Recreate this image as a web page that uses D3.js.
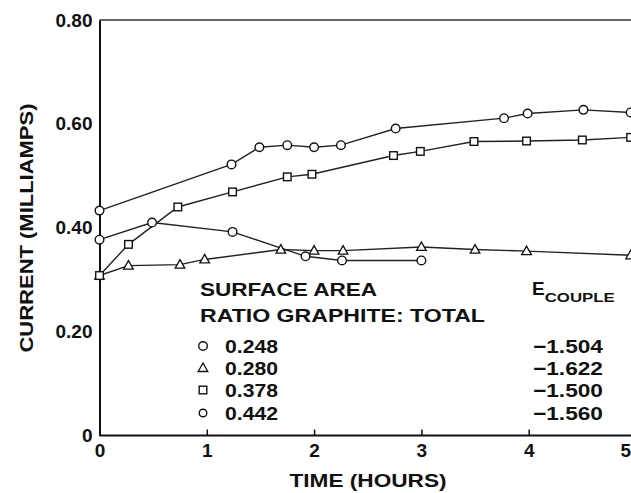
<!DOCTYPE html>
<html><head><meta charset="utf-8">
<script src="https://cdn.jsdelivr.net/npm/d3@7"></script>
<style>
body{margin:0;background:#fff;}
svg{display:block;font-family:"Liberation Sans",Arial,sans-serif;font-weight:bold;}
</style></head>
<body><svg id="chart" width="631" height="493"></svg>
<script>
// ---- data ----
const xTicks = [0,1,2,3,4,5];
const yTicks = [0,0.2,0.4,0.6,0.8];
const yTickLabels = ["0","0.20","0.40","0.60","0.80"];

const t442 = [0,1.23,1.49,1.75,2.0,2.25,2.76,3.77,3.99,4.51,4.95];
const v442 = [0.433,0.522,0.555,0.559,0.555,0.559,0.591,0.611,0.620,0.627,0.622];

const t378 = [0,0.27,0.73,1.24,1.75,1.98,2.74,2.99,3.49,3.98,4.5,4.95];
const v378 = [0.308,0.368,0.440,0.469,0.498,0.503,0.539,0.547,0.566,0.567,0.569,0.574];

const t248 = [0,0.49,1.24,1.92,2.26,3.0];
const v248 = [0.377,0.410,0.392,0.345,0.337,0.337];

const t280 = [0,0.27,0.75,0.98,1.69,2.0,2.27,3.0,3.5,3.98,4.95];
const v280 = [0.308,0.327,0.329,0.339,0.358,0.356,0.356,0.363,0.358,0.355,0.347];

const legendRatios = ["0.248","0.280","0.378","0.442"];
const legendSymbols = ["circle","triangle","square","circleSmall"];
const legendEcouple = ["\u22121.504","\u22121.622","\u22121.500","\u22121.560"];

// ---- chart ----
const svg = d3.select("#chart");
const x = d3.scaleLinear().domain([0,5]).range([99.5,636]);
const y = d3.scaleLinear().domain([0,0.8]).range([435.5,20]);
const ink = "#111";

// frame
svg.append("line").attr("x1",x(0)).attr("x2",631).attr("y1",y(0.8)).attr("y2",y(0.8))
  .attr("stroke","#333").attr("stroke-width",1.5);

const xAxis = svg.append("g").attr("transform",`translate(0,${y(0)})`)
  .call(d3.axisBottom(x).tickValues(xTicks).tickSizeInner(-6).tickSizeOuter(0).tickPadding(8).tickFormat(d3.format("d")));
xAxis.select(".domain").attr("d",`M${x(0)},0H631`).attr("stroke",ink).attr("stroke-width",2);
xAxis.selectAll(".tick line").attr("stroke",ink).attr("stroke-width",1.5);
xAxis.selectAll(".tick").filter(d=>d===0).select("line").remove();
xAxis.selectAll("text").attr("font-size",19).attr("font-weight","bold").attr("fill",ink);
xAxis.selectAll(".tick").filter(d=>d===5).select("text").attr("text-anchor","end").attr("x",-5.5);

const yAxis = svg.append("g").attr("transform",`translate(${x(0)},0)`)
  .call(d3.axisLeft(y).tickValues(yTicks).tickSize(0).tickPadding(7).tickFormat((d,i)=>yTickLabels[i]));
yAxis.select(".domain").attr("stroke",ink).attr("stroke-width",2);
yAxis.selectAll("text").attr("font-size",19).attr("font-weight","bold").attr("fill",ink);

// axis titles
svg.append("text").attr("x",368).attr("y",487).attr("text-anchor","middle")
  .attr("font-size",19).attr("fill",ink).attr("textLength",157).attr("lengthAdjust","spacingAndGlyphs")
  .text("TIME (HOURS)");
svg.append("text").attr("transform","translate(33,228) rotate(-90)").attr("text-anchor","middle")
  .attr("font-size",19).attr("fill",ink).attr("textLength",249).attr("lengthAdjust","spacingAndGlyphs")
  .text("CURRENT (MILLIAMPS)");

// series
const line = d3.line().x(d=>x(d[0])).y(d=>y(d[1]));
const series = [
  {t:t280,v:v280,sym:"triangle"},
  {t:t248,v:v248,sym:"circle"},
  {t:t378,v:v378,sym:"square"},
  {t:t442,v:v442,sym:"circle"}
];
function drawSym(g, sym, cx, cy){
  if(sym==="circle"||sym==="circleSmall"){
    g.append("circle").attr("cx",cx).attr("cy",cy).attr("r",sym==="circle"?4.3:3.8)
      .attr("fill","#fff").attr("stroke",ink).attr("stroke-width",1.4);
  } else if(sym==="square"){
    g.append("rect").attr("x",cx-3.8).attr("y",cy-3.8).attr("width",7.6).attr("height",7.6)
      .attr("fill","#fff").attr("stroke",ink).attr("stroke-width",1.4);
  } else {
    g.append("path").attr("d",`M${cx},${cy-5}L${cx+4.8},${cy+3.5}L${cx-4.8},${cy+3.5}Z`)
      .attr("fill","#fff").attr("stroke",ink).attr("stroke-width",1.3);
  }
}
series.forEach(s=>{
  const pts = s.t.map((t,i)=>[t,s.v[i]]);
  svg.append("path").datum(pts).attr("d",line).attr("fill","none")
    .attr("stroke","#222").attr("stroke-width",1.4);
});
series.forEach(s=>{
  const g = svg.append("g");
  s.t.forEach((t,i)=>drawSym(g,s.sym,x(t),y(s.v[i])));
});

// legend
svg.append("text").attr("x",200).attr("y",296).attr("font-size",19).attr("fill",ink)
  .attr("textLength",177).attr("lengthAdjust","spacingAndGlyphs").text("SURFACE AREA");
svg.append("text").attr("x",200).attr("y",322).attr("font-size",19).attr("fill",ink)
  .attr("textLength",285).attr("lengthAdjust","spacingAndGlyphs").text("RATIO GRAPHITE: TOTAL");
const e = svg.append("text").attr("x",532).attr("y",295).attr("font-size",19).attr("fill",ink);
e.append("tspan").text("E");
e.append("tspan").attr("dy",7).attr("font-size",13).attr("textLength",70).attr("lengthAdjust","spacingAndGlyphs").text("COUPLE");

const rowY = [353,375,397,420];
const lg = svg.append("g");
legendRatios.forEach((r,i)=>{
  drawSym(lg, legendSymbols[i], 203, rowY[i]-7);
  lg.append("text").attr("x",225).attr("y",rowY[i]).attr("font-size",19).attr("fill",ink)
    .attr("textLength",53).attr("lengthAdjust","spacingAndGlyphs").text(r);
  lg.append("text").attr("x",603).attr("y",rowY[i]).attr("font-size",19).attr("fill",ink)
    .attr("text-anchor","end").attr("textLength",70).attr("lengthAdjust","spacingAndGlyphs").text(legendEcouple[i]);
});
</script></body></html>
